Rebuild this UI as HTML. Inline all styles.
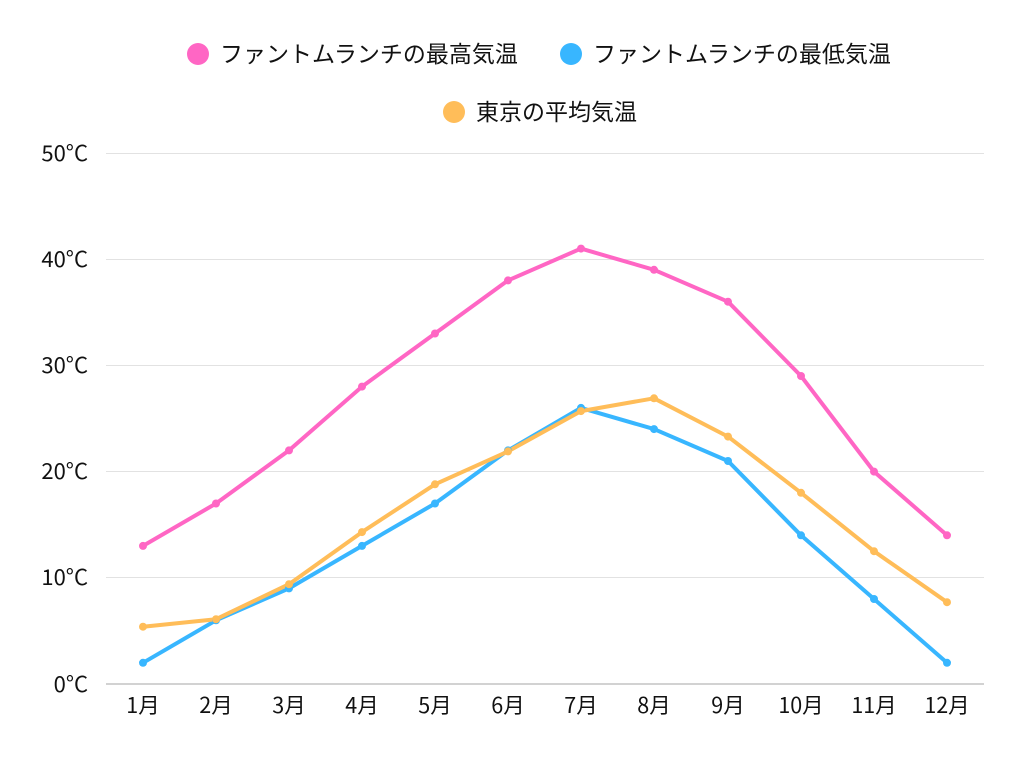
<!DOCTYPE html>
<html><head><meta charset="utf-8"><style>
html,body{margin:0;padding:0;background:#fff;}
svg{display:block;}
text{font-family:"Liberation Sans","Noto Sans CJK JP",sans-serif;fill:#111;}
.cjk{font-family:"Noto Sans CJK JP","Liberation Sans",sans-serif;}
</style></head><body>
<svg width="1024" height="768" viewBox="0 0 1024 768" xmlns="http://www.w3.org/2000/svg">
<rect width="1024" height="768" fill="#fff"/>
<!-- legend -->
<circle cx="198" cy="54" r="11" fill="#ff66c4"/>
<text class="cjk" x="220" y="62" font-size="23">ファントムランチの最高気温</text>
<circle cx="571" cy="54" r="11" fill="#38b6ff"/>
<text class="cjk" x="593" y="62" font-size="23">ファントムランチの最低気温</text>
<circle cx="454" cy="112" r="11" fill="#ffbd59"/>
<text class="cjk" x="476" y="120" font-size="23">東京の平均気温</text>
<!-- grid -->
<g stroke="#e2e2e2" stroke-width="1">
<line x1="106" y1="153.5" x2="984" y2="153.5"/>
<line x1="106" y1="259.5" x2="984" y2="259.5"/>
<line x1="106" y1="365.5" x2="984" y2="365.5"/>
<line x1="106" y1="471.5" x2="984" y2="471.5"/>
<line x1="106" y1="577.5" x2="984" y2="577.5"/>
</g>
<line x1="106" y1="684" x2="984" y2="684" stroke="#c4c4c4" stroke-width="1.5"/>
<!-- y labels -->
<g text-anchor="end">
<text class="cjk" x="88" y="161" font-size="22">50°C</text>
<text class="cjk" x="88" y="267" font-size="22">40°C</text>
<text class="cjk" x="88" y="373" font-size="22">30°C</text>
<text class="cjk" x="88" y="479" font-size="22">20°C</text>
<text class="cjk" x="88" y="585" font-size="22">10°C</text>
<text class="cjk" x="88" y="692" font-size="22">0°C</text>
</g>
<!-- x labels -->
<g text-anchor="middle">
<text class="cjk" x="143" y="713" font-size="21.5">1月</text>
<text class="cjk" x="216" y="713" font-size="21.5">2月</text>
<text class="cjk" x="289" y="713" font-size="21.5">3月</text>
<text class="cjk" x="362" y="713" font-size="21.5">4月</text>
<text class="cjk" x="435" y="713" font-size="21.5">5月</text>
<text class="cjk" x="508" y="713" font-size="21.5">6月</text>
<text class="cjk" x="581" y="713" font-size="21.5">7月</text>
<text class="cjk" x="654" y="713" font-size="21.5">8月</text>
<text class="cjk" x="728" y="713" font-size="21.5">9月</text>
<text class="cjk" x="801" y="713" font-size="21.5">10月</text>
<text class="cjk" x="874" y="713" font-size="21.5">11月</text>
<text class="cjk" x="947" y="713" font-size="21.5">12月</text>
</g>
<!-- series -->
<g fill="none" stroke-width="4" stroke-linejoin="round" stroke-linecap="round">
<polyline stroke="#ff66c4" points="143,545.9 216,503.5 289,450.4 362,386.6 435,333.5 508,280.4 581,248.6 654,269.8 728,301.7 801,376.0 874,471.6 947,535.3"/>
<polyline stroke="#38b6ff" points="143,662.8 216,620.3 289,588.4 362,545.9 435,503.5 508,450.4 581,407.9 654,429.1 728,461.0 801,535.3 874,599.0 947,662.8"/>
<polyline stroke="#ffbd59" points="143,626.7 216,619.2 289,584.2 362,532.1 435,484.3 508,451.4 581,411.1 654,398.3 728,436.6 801,492.8 874,551.2 947,602.2"/>
</g>
<g fill="#ff66c4">
<circle cx="143" cy="545.9" r="4"/><circle cx="216" cy="503.5" r="4"/><circle cx="289" cy="450.4" r="4"/><circle cx="362" cy="386.6" r="4"/><circle cx="435" cy="333.5" r="4"/><circle cx="508" cy="280.4" r="4"/><circle cx="581" cy="248.6" r="4"/><circle cx="654" cy="269.8" r="4"/><circle cx="728" cy="301.7" r="4"/><circle cx="801" cy="376.0" r="4"/><circle cx="874" cy="471.6" r="4"/><circle cx="947" cy="535.3" r="4"/>
</g>
<g fill="#38b6ff">
<circle cx="143" cy="662.8" r="4"/><circle cx="216" cy="620.3" r="4"/><circle cx="289" cy="588.4" r="4"/><circle cx="362" cy="545.9" r="4"/><circle cx="435" cy="503.5" r="4"/><circle cx="508" cy="450.4" r="4"/><circle cx="581" cy="407.9" r="4"/><circle cx="654" cy="429.1" r="4"/><circle cx="728" cy="461.0" r="4"/><circle cx="801" cy="535.3" r="4"/><circle cx="874" cy="599.0" r="4"/><circle cx="947" cy="662.8" r="4"/>
</g>
<g fill="#ffbd59">
<circle cx="143" cy="626.7" r="4"/><circle cx="216" cy="619.2" r="4"/><circle cx="289" cy="584.2" r="4"/><circle cx="362" cy="532.1" r="4"/><circle cx="435" cy="484.3" r="4"/><circle cx="508" cy="451.4" r="4"/><circle cx="581" cy="411.1" r="4"/><circle cx="654" cy="398.3" r="4"/><circle cx="728" cy="436.6" r="4"/><circle cx="801" cy="492.8" r="4"/><circle cx="874" cy="551.2" r="4"/><circle cx="947" cy="602.2" r="4"/>
</g>
</svg>
</body></html>
